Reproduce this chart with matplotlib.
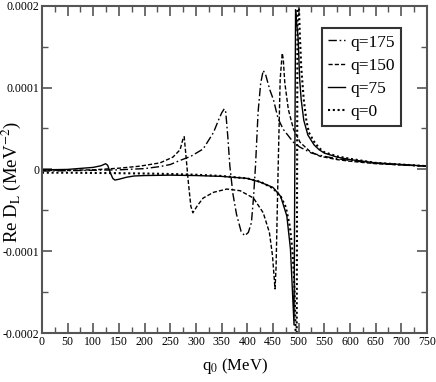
import matplotlib
matplotlib.use("Agg")
import matplotlib.pyplot as plt
from matplotlib.ticker import MultipleLocator, FuncFormatter

plt.rcParams['font.family'] = ['Liberation Serif', 'DejaVu Serif']
plt.rcParams['mathtext.fontset'] = 'stix'

# valores, Re D_L en unidades de 1e-4 MeV^-2
q0_175 = [0, 50, 100, 150, 200, 230, 250, 269, 290, 314, 334, 345, 350, 355, 358, 362,
          366, 372, 379, 388, 395, 402, 408, 412, 416, 421, 426, 431, 436, 444, 451,
          460, 470, 490, 503, 525, 550, 575, 600, 650, 700, 750]
d_175 = [-0.02, -0.015, -0.01, -0.005, 0.01, 0.035, 0.06, 0.11, 0.16, 0.25, 0.45, 0.62,
         0.69, 0.74, 0.7, 0.4, 0.04, -0.3, -0.55, -0.76, -0.81, -0.77, -0.65, -0.35,
         0.05, 0.7, 1.05, 1.21, 1.15, 0.97, 0.85, 0.62, 0.49, 0.33, 0.27, 0.2, 0.16,
         0.13, 0.11, 0.075, 0.055, 0.04]

q0_150 = [0, 50, 100, 150, 191, 230, 255, 269, 275, 277, 280, 285, 290, 294, 297, 303,
          314, 334, 360, 386, 412, 431, 443, 449, 454, 456, 460, 464, 468, 470, 473,
          480, 490, 503, 522, 542, 575, 600, 650, 700, 750]
d_150 = [-0.01, -0.01, -0.005, 0.015, 0.04, 0.08, 0.15, 0.24, 0.38, 0.40, 0.2, -0.15,
         -0.45, -0.53, -0.5, -0.44, -0.35, -0.28, -0.24, -0.26, -0.35, -0.53, -0.77,
         -1.05, -1.46, -1.2, 0.0, 1.1, 1.42, 1.35, 1.06, 0.73, 0.49, 0.33, 0.22, 0.16,
         0.12, 0.1, 0.07, 0.055, 0.04]

q0_75 = [0, 50, 80, 100, 115, 124, 128, 133, 138, 142, 150, 165, 180, 200, 250, 300,
         350, 400, 425, 450, 465, 477, 484, 488, 491, 494, 496, 499, 502, 505, 510,
         518, 530, 540, 550, 575, 600, 650, 700, 750]
d_75 = [-0.005, 0.0, 0.015, 0.025, 0.045, 0.07, 0.05, -0.04, -0.11, -0.13, -0.12,
        -0.095, -0.08, -0.075, -0.07, -0.075, -0.085, -0.11, -0.155, -0.22, -0.33,
        -0.57, -0.97, -1.5, -1.9, 1.95, 1.8, 1.6, 1.1, 0.85, 0.6, 0.42, 0.3, 0.24,
        0.2, 0.15, 0.12, 0.08, 0.06, 0.04]

q0_0 = [0, 50, 100, 150, 200, 250, 300, 350, 400, 425, 450, 465, 475, 483, 488, 492,
        496, 498, 500, 502, 505, 510, 515, 520, 530, 540, 550, 575, 600, 650, 700, 750]
d_0 = [-0.04, -0.04, -0.043, -0.046, -0.05, -0.056, -0.065, -0.08, -0.11, -0.15,
       -0.23, -0.33, -0.46, -0.7, -1.0, -1.45, -2.5, 2.5, 2.1, 1.7, 1.25, 0.85, 0.6,
       0.45, 0.34, 0.26, 0.21, 0.16, 0.13, 0.08, 0.06, 0.04]

series = [
    (q0_175, d_175, 'q=175', (0, (6, 2, 1.2, 2)), 1.0),
    (q0_150, d_150, 'q=150', (0, (3, 1.5)), 1.0),
    (q0_75, d_75, 'q=75', '-', 1.0),
    (q0_0, d_0, 'q=0', (0, (1, 1.3)), 1.5),
]

fig = plt.figure(figsize=(4.36, 3.82), dpi=100)
ax = fig.add_axes([0.0963, 0.128, 0.883, 0.857])

for x, y, lab, ls, lw in series:
    ax.plot(x, [v * 1e-4 for v in y], color='black', linestyle=ls, linewidth=lw, label=lab)

ax.set_xlim(0, 750)
ax.set_ylim(-0.0002, 0.0002)
ax.xaxis.set_major_locator(MultipleLocator(50))
ax.xaxis.set_minor_locator(MultipleLocator(25))
ax.yaxis.set_major_locator(MultipleLocator(0.0001))
ax.yaxis.set_minor_locator(MultipleLocator(0.00005))
ylabs = {2: '0.0002', 1: '0.0001', 0: '0', -1: '-0.0001', -2: '-0.0002'}
ax.yaxis.set_major_formatter(FuncFormatter(lambda v, p: ylabs.get(int(round(v * 1e4)), '')))

ax.tick_params(which='both', direction='in', top=True, right=True, colors='#555555',
               labelcolor='black', labelsize=8.5, pad=2)
ax.tick_params(which='major', length=7, width=1.2)
ax.tick_params(which='minor', length=4, width=1.0)
for s in ax.spines.values():
    s.set_color('#555555')
    s.set_linewidth(1.5)

ax.set_xlabel(r'q$_0$ (MeV)', fontsize=12, labelpad=6)
ax.set_ylabel(r'Re D$_\mathrm{L}$ (MeV$^{-2}$)', fontsize=13.5)
ax.yaxis.set_label_coords(-0.05, 0.46)

leg = ax.legend(loc='upper left', bbox_to_anchor=(0.727, 0.931), fontsize=12.5,
                frameon=True, fancybox=False, handlelength=1.0, labelspacing=0.4,
                borderpad=0.35, handletextpad=0.3, borderaxespad=0)
leg.get_frame().set_edgecolor('black')
leg.get_frame().set_linewidth(1.5)

fig.savefig('out.png', dpi=100)
